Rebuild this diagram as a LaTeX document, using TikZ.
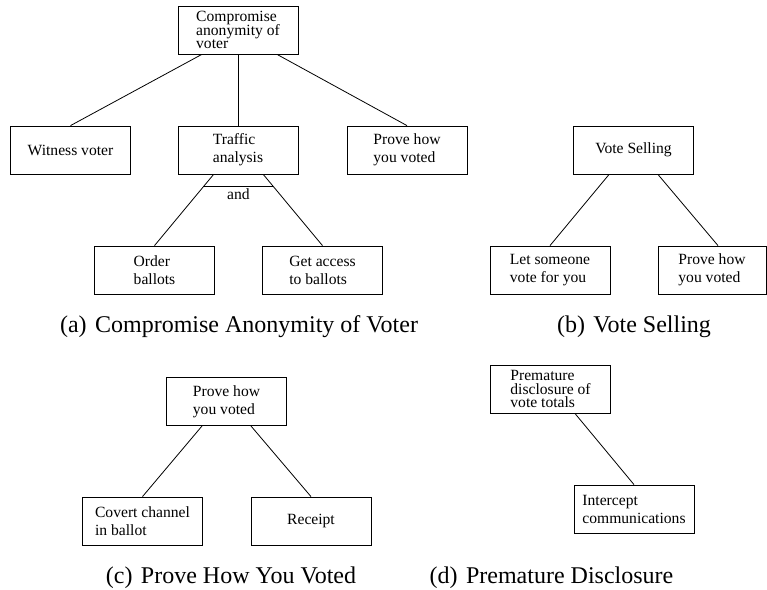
\documentclass[tikz,border=0pt]{standalone}
\usepackage{fontspec}
\setmainfont{Liberation Serif}
\usetikzlibrary{positioning}
\newcommand\tightfont{\fontsize{7.8}{6.7}\selectfont\lineskiplimit=-20pt\relax}
\tikzset{
  threat/.style={draw, thin, minimum width=60pt, minimum height=24pt, inner sep=1pt, align=left, font=\fontsize{7.8}{9}\selectfont},
  tightthreat/.style={threat, font=\tightfont},
  andlabel/.style={font=\fontsize{7.8}{9}\selectfont, inner sep=1pt},
  subcap/.style={anchor=base, inner sep=0pt, font=\fontsize{12}{14}\selectfont}
}

\begin{document}
\begin{tikzpicture}[x=0.5pt, y=-0.5pt]
  \useasboundingbox (0,0) rectangle (767,590);

  % (a) compromise anonymity
  \node[tightthreat] (comp) at (238,30) {Compromise\\anonymity of\\voter};
  \node[threat] (wit) at (70.5,150) {Witness voter};
  \node[threat] (traf) at (238,150) {Traffic\\analysis};
  \node[threat] (provea) at (407,150) {Prove how\\you voted};
  \node[threat] (ord) at (154.5,270) {Order\\ballots};
  \node[threat] (acc) at (322.5,270) {Get access\\to ballots};
  \draw (comp.214) -- (wit.north);
  \draw (comp.south) -- (traf.north);
  \draw (comp.328) -- (provea.north);
  \draw (traf.225) -- coordinate[pos=.17] (andl) (ord.north);
  \draw (traf.316) -- coordinate[pos=.17] (andr) (acc.north);
  \draw (andl) -- node[andlabel, below] {and} (andr);
  \node[subcap] (capa) at (239,332) {(a)\hspace{0.35em}Compromise Anonymity of Voter};

  % (b) vote selling
  \node[threat] (vs) at (633.5,150) {Vote Selling};
  \node[threat] (let) at (550,270) {Let someone\\vote for you};
  \node[threat, minimum width=54pt] (proveb) at (712,270) {Prove how\\you voted};
  \draw (vs.225) -- (let.north);
  \draw (vs.315) -- ([xshift=3pt]proveb.north);
  \node[subcap] (capb) at (634,332) {(b)\hspace{0.35em}Vote Selling};

  % (c) prove how you voted
  \node[threat] (provec) at (226.5,401.5) {Prove how\\you voted};
  \node[threat] (cov) at (142.5,521) {Covert channel\\in ballot};
  \node[threat] (rec) at (311,521) {Receipt};
  \draw (provec.225) -- (cov.north);
  \draw (provec.315) -- (rec.north);
  \node[subcap] (capc) at (231,583) {(c)\hspace{0.35em}Prove How You Voted};

  % (d) premature disclosure
  \node[tightthreat] (pre) at (550.5,389) {Premature\\disclosure of\\vote totals};
  \node[threat] (icp) at (634,509) {Intercept\\communications};
  \draw (pre.315) -- (icp.north);
  \node[subcap] (capd) at (551.5,583) {(d)\hspace{0.35em}Premature Disclosure};
\end{tikzpicture}
\end{document}
